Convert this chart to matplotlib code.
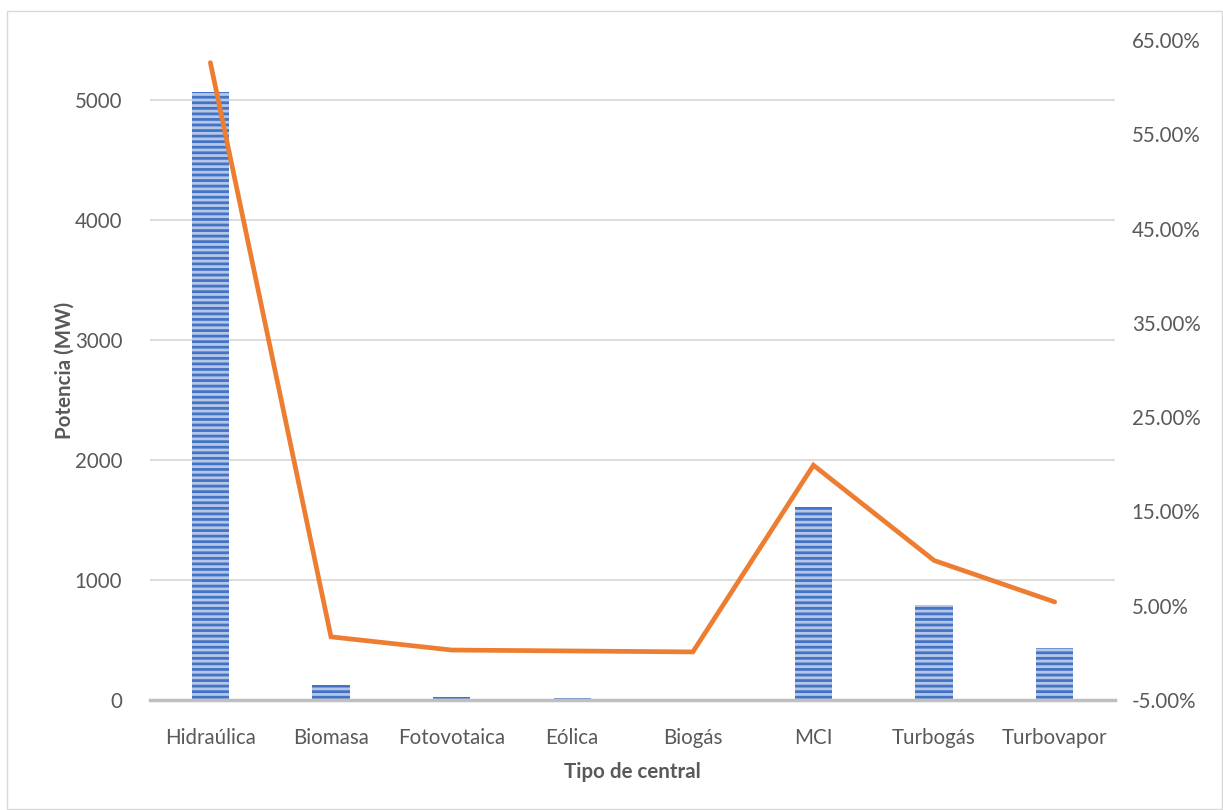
import matplotlib.pyplot as plt
from matplotlib.patches import Rectangle
from matplotlib.ticker import FuncFormatter

plt.rcParams['font.family'] = ['Lato', 'DejaVu Sans']
plt.rcParams['hatch.linewidth'] = 2.0

categories = ['Hidraúlica', 'Biomasa', 'Fotovotaica', 'Eólica', 'Biogás',
              'MCI', 'Turbogás', 'Turbovapor']
potencia_mw = [5070, 125, 25, 15, 2, 1608, 792, 433]
porcentaje = [62.6, 1.7, 0.3, 0.2, 0.1, 19.9, 9.8, 5.4]

left_ticks = [0, 1000, 2000, 3000, 4000, 5000]
right_ticks = [-5, 5, 15, 25, 35, 45, 55, 65]

text_color = '#595959'
grid_color = '#D9D9D9'
fsize = 14.8


def main():
    fig = plt.figure(figsize=(12.23, 8.10), dpi=100)
    fig.patches.append(Rectangle((7 / 1223, 1 / 810), 1215 / 1223, 798 / 810,
                                 transform=fig.transFigure, fill=False,
                                 edgecolor='#D9D9D9', linewidth=1.0))

    ax = fig.add_axes([0.1227, 0.1358, 0.7890, 0.8148])
    x = list(range(len(categories)))

    ax.bar(x, potencia_mw, width=0.31, color='#B4C7E7', edgecolor='#4472C4',
           hatch='---', linewidth=0, zorder=2)

    ax.set_xlim(-0.5, len(categories) - 0.5)
    ax.set_ylim(0, 5500)
    ax.set_yticks(left_ticks)
    ax.set_xticks(x)
    ax.set_xticklabels(categories)
    ax.yaxis.grid(True, color=grid_color, linewidth=1.3)
    ax.set_axisbelow(True)
    for side in ['top', 'right', 'left']:
        ax.spines[side].set_visible(False)
    ax.spines['bottom'].set_color('#BFBFBF')
    ax.spines['bottom'].set_linewidth(2.5)
    ax.spines['bottom'].set_zorder(3)
    ax.tick_params(axis='both', length=0, colors=text_color, labelsize=fsize)
    ax.tick_params(axis='y', pad=20)
    ax.tick_params(axis='x', pad=20)
    ax.set_ylabel('Potencia (MW)', fontsize=fsize, fontweight='bold',
                  color=text_color, labelpad=0)
    ax.set_xlabel('Tipo de central', fontsize=fsize, fontweight='bold',
                  color=text_color, labelpad=10)

    ax2 = ax.twinx()
    ax2.plot(x, porcentaje, color='#ED7D31', linewidth=3.4,
             solid_capstyle='round', solid_joinstyle='miter', zorder=4)
    ax2.set_ylim(-5, 65)
    ax2.set_yticks(right_ticks)
    ax2.yaxis.set_major_formatter(FuncFormatter(lambda v, p: f'{v:.2f}%'))
    for side in ['top', 'right', 'left', 'bottom']:
        ax2.spines[side].set_visible(False)
    ax2.tick_params(axis='y', length=0, colors=text_color, labelsize=fsize,
                    pad=12)

    fig.savefig('out.png', dpi=100)


if __name__ == '__main__':
    main()
